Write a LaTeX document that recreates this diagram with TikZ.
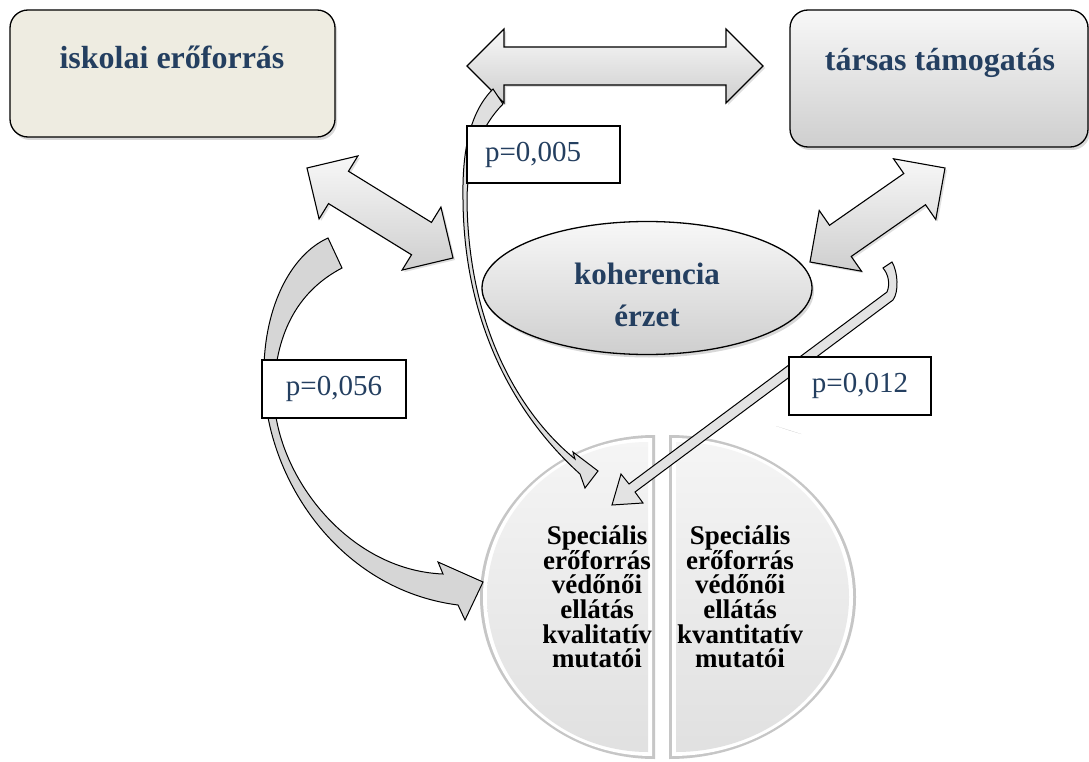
\documentclass[tikz,border=0pt]{standalone}
\usepackage{fontspec}
\setmainfont{Liberation Serif}
\usetikzlibrary{calc,shapes.geometric,shadows}
\definecolor{txtblue}{RGB}{36,63,96}
\definecolor{cream}{RGB}{238,236,225}
\newcommand\tightlines{\lineskiplimit=-100pt\relax}
\newcommand\dblblock[2]{%
 \path[dblarr] let \p1=($(#2)-(#1)$), \n2={atan2(\y1,\x1)} in
 (#1) -- ($(#1)+(\n2:37pt)+(\n2+90:37pt)$) -- ($(#1)+(\n2:37pt)+(\n2+90:19pt)$)
 -- ($(#2)+(\n2+180:37pt)+(\n2+90:19pt)$) -- ($(#2)+(\n2+180:37pt)+(\n2+90:37pt)$)
 -- (#2) -- ($(#2)+(\n2+180:37pt)+(\n2-90:37pt)$) -- ($(#2)+(\n2+180:37pt)+(\n2-90:19pt)$)
 -- ($(#1)+(\n2:37pt)+(\n2-90:19pt)$) -- ($(#1)+(\n2:37pt)+(\n2-90:37pt)$) -- cycle;}
\begin{document}
\begin{tikzpicture}[x=1pt,y=-1pt,
  boxbase/.style={draw=black, line width=1.3pt, rounded corners=18pt, inner sep=0pt,
    drop shadow={shadow xshift=2pt, shadow yshift=-3pt, opacity=0.3}},
  iskbox/.style={boxbase, fill=cream, minimum width=325pt, minimum height=127pt},
  tarsbox/.style={boxbase, top color=gray!6, bottom color=gray!38, minimum width=298pt, minimum height=137pt},
  titletxt/.style={text=txtblue, font=\fontsize{32}{38}\selectfont\bfseries, inner sep=0pt},
  koh/.style={ellipse, draw=black, line width=1.3pt, top color=gray!6, bottom color=gray!38,
    minimum width=330pt, minimum height=133pt, inner sep=0pt,
    drop shadow={shadow xshift=2pt, shadow yshift=-3pt, opacity=0.3}},
  kohtxt/.style={align=center, text=txtblue, inner sep=0pt, font=\fontsize{31}{42}\selectfont\bfseries},
  pbox/.style={draw=black, line width=1.1pt, fill=white, inner sep=0pt, text=txtblue,
    font=\fontsize{29}{34}\selectfont},
  dblarr/.style={draw=black, line width=1.1pt, line join=miter, top color=gray!6, bottom color=gray!38,
    drop shadow={opacity=0.25, shadow xshift=2pt, shadow yshift=-2pt}},
  curvarr/.style={draw=black, line width=1pt, line join=miter},
  halftxt/.style={align=center, text=black, inner sep=0pt,
    font=\fontsize{27}{24.6}\selectfont\bfseries\tightlines},
]
\useasboundingbox (0,0) rectangle (1089,762);
\fill[white] (0,0) rectangle (1089,762);

% split circle
\fill[gray!45] (655,435) arc[start angle=90, end angle=270, x radius=175pt, y radius=162pt] -- cycle;
\fill[white] (652,438) arc[start angle=90, end angle=270, x radius=169pt, y radius=159pt] -- cycle;
\path[top color=gray!8, bottom color=gray!24] (648,442) arc[start angle=90, end angle=270, x radius=161pt, y radius=155pt] -- cycle;
\fill[gray!45] (669,435) arc[start angle=90, end angle=-90, x radius=187pt, y radius=162pt] -- cycle;
\fill[white] (672,438) arc[start angle=90, end angle=-90, x radius=181pt, y radius=159pt] -- cycle;
\path[top color=gray!8, bottom color=gray!24] (676,442) arc[start angle=90, end angle=-90, x radius=173pt, y radius=155pt] -- cycle;
\fill[gray!60] (776,426) -- (801,434) -- (788,430) -- cycle;

% boxes and ellipse
\node[iskbox] (isk) at (172.5,73.5) {};
\node[titletxt] (iskt) at (172,57) {iskolai erőforrás};
\node[tarsbox] (tars) at (939,78.5) {};
\node[titletxt] (tarst) at (940,63) {társas támogatás};
\node[koh] (koh) at (647,288) {};
\node[kohtxt] (koht) at (647,295) {koherencia\\érzet};

% block double arrows
\coordinate (ta1) at (467,66); \coordinate (ta2) at (763,66);
\coordinate (la1) at (307,168); \coordinate (la2) at (453,258);
\coordinate (ra1) at (810,262); \coordinate (ra2) at (945,168);
\dblblock{ta1}{ta2}
\dblblock{la1}{la2}
\dblblock{ra1}{ra2}

% curved arrow p=0,005
\path[curvarr, fill=gray!25] (493,89) .. controls (470,112) and (462,150) .. (463,200)
  .. controls (464,330) and (520,420) .. (580,474) -- (585,488) -- (598,471) -- (573,452) -- (575,459)
  .. controls (515,410) and (468,320) .. (467,200) .. controls (467,160) and (482,125) .. (503,104) -- cycle;
% curved arrow p=0,056
\path[curvarr, fill=gray!32] (328,238) .. controls (290,255) and (262,310) .. (264,380)
  .. controls (266,480) and (340,590) .. (458,605) -- (465,620) -- (483,582) -- (438,562) -- (443,574)
  .. controls (345,570) and (272,470) .. (274,390) .. controls (276,330) and (300,290) .. (342,268) -- cycle;
% hooked arrow p=0,012
\path[curvarr, fill=gray!22] (635,492) -- (893,300) .. controls (899,292) and (898,272) .. (892,262)
  -- (883,268) .. controls (889,275) and (890,285) .. (887,292) -- (629,484) -- (621,474)
  -- (612,505) -- (643,503) -- cycle;

% labels
\node[pbox, minimum width=153pt, minimum height=57pt, text width=117pt, align=left, inner xsep=18pt] (p005) at (543.5,154.5) {p=0,005};
\node[pbox, minimum width=144pt, minimum height=58pt] (p056) at (334,389) {p=0,056};
\node[pbox, minimum width=142pt, minimum height=58pt] (p012) at (860,386) {p=0,012};

% circle texts
\node[halftxt] (lefttxt) at (597,597) {Speciális\\erőforrás\\védőnői\\ellátás\\kvalitatív\\mutatói};
\node[halftxt] (righttxt) at (740,597) {Speciális\\erőforrás\\védőnői\\ellátás\\kvantitatív\\mutatói};
\end{tikzpicture}
\end{document}
